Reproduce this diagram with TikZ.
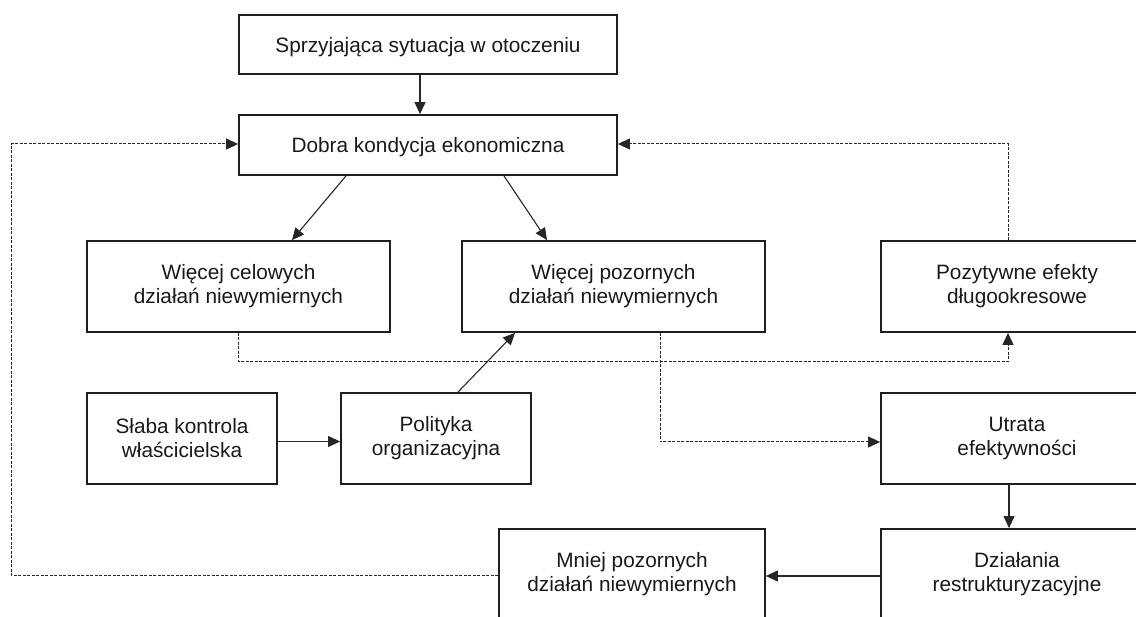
\documentclass[tikz,border=0pt]{standalone}
\usepackage{fontspec}
\setmainfont{Liberation Sans}
\usetikzlibrary{arrows.meta,calc}
\begin{document}
\begin{tikzpicture}[x=1pt,y=-1pt,
  box/.style={draw=black!88, line width=1.8pt, align=center, minimum height=91pt, inner sep=0pt, text=black!90, font=\fontsize{20.8}{24}\selectfont, execute at begin node={\rule{0pt}{19.5pt}}},
  arr/.style={line width=1.1pt, draw=black!85, -{Triangle[length=12pt,width=11pt]}},
  dotarr/.style={line width=1pt, draw=black!85, dash pattern=on 3pt off 1.5pt, -{Triangle[length=12pt,width=11pt]}}]
\path[use as bounding box, clip] (0,0) rectangle (1136,617);

\node[box, minimum width=378pt, minimum height=59pt] (s1) at (428,44.5) {Sprzyjająca sytuacja w otoczeniu};
\node[box, minimum width=378pt, minimum height=60pt] (dob) at (428,145) {Dobra kondycja ekonomiczna};
\node[box, minimum width=303pt] (wc) at (238.5,286.5) {Więcej celowych\\działań niewymiernych};
\node[box, minimum width=303pt] (wp) at (613.5,286.5) {Więcej pozornych\\działań niewymiernych};
\node[box, minimum width=272pt] (poz) at (1017,286.5) {Pozytywne efekty\\długookresowe};
\node[box, minimum width=190pt] (sl) at (182,438.5) {Słaba kontrola\\właścicielska};
\node[box, minimum width=190pt] (pol) at (436,438.5) {Polityka\\organizacyjna};
\node[box, minimum width=272pt] (utr) at (1017,438.5) {Utrata\\efektywności};
\node[box, minimum width=266pt] (mn) at (632,574.5) {Mniej pozornych\\działań niewymiernych};
\node[box, minimum width=272pt] (dz) at (1017,574.5) {Działania\\restrukturyzacyjne};

\coordinate (lc) at (11,575);

\draw[arr] ($(s1.south)+(-8,0)$) -- ($(dob.north)+(-8,0)$);
\draw[arr] ($(dob.south)+(-82,0)$) -- ($(wc.north)+(53.5,0)$);
\draw[arr] ($(dob.south)+(76,0)$) -- ($(wp.north)+(-66.5,0)$);
\draw[arr] ($(pol.north)+(22,0)$) -- ($(wp.south)+(-98.5,0)$);
\draw[arr] ($(sl.east)+(0,3)$) -- ($(pol.west)+(0,3)$);
\draw[arr] ($(utr.south)+(-8,0)$) -- ($(dz.north)+(-8,0)$);
\draw[arr] ($(dz.west)+(0,1.5)$) -- ($(mn.east)+(0,1.5)$);

\draw[dotarr] ($(poz.north)+(-9,0)$) |- ($(dob.east)+(0,-1)$);
\draw[dotarr] (wc.south) |- ($(poz.south)+(-9,29)$) -- ($(poz.south)+(-9,0)$);
\draw[dotarr] ($(wp.south)+(46.5,0)$) |- ($(utr.west)+(0,3.5)$);
\draw[dotarr] ($(mn.west)+(0,0.5)$) -- (lc) |- ($(dob.west)+(0,-1)$);
\end{tikzpicture}
\end{document}
